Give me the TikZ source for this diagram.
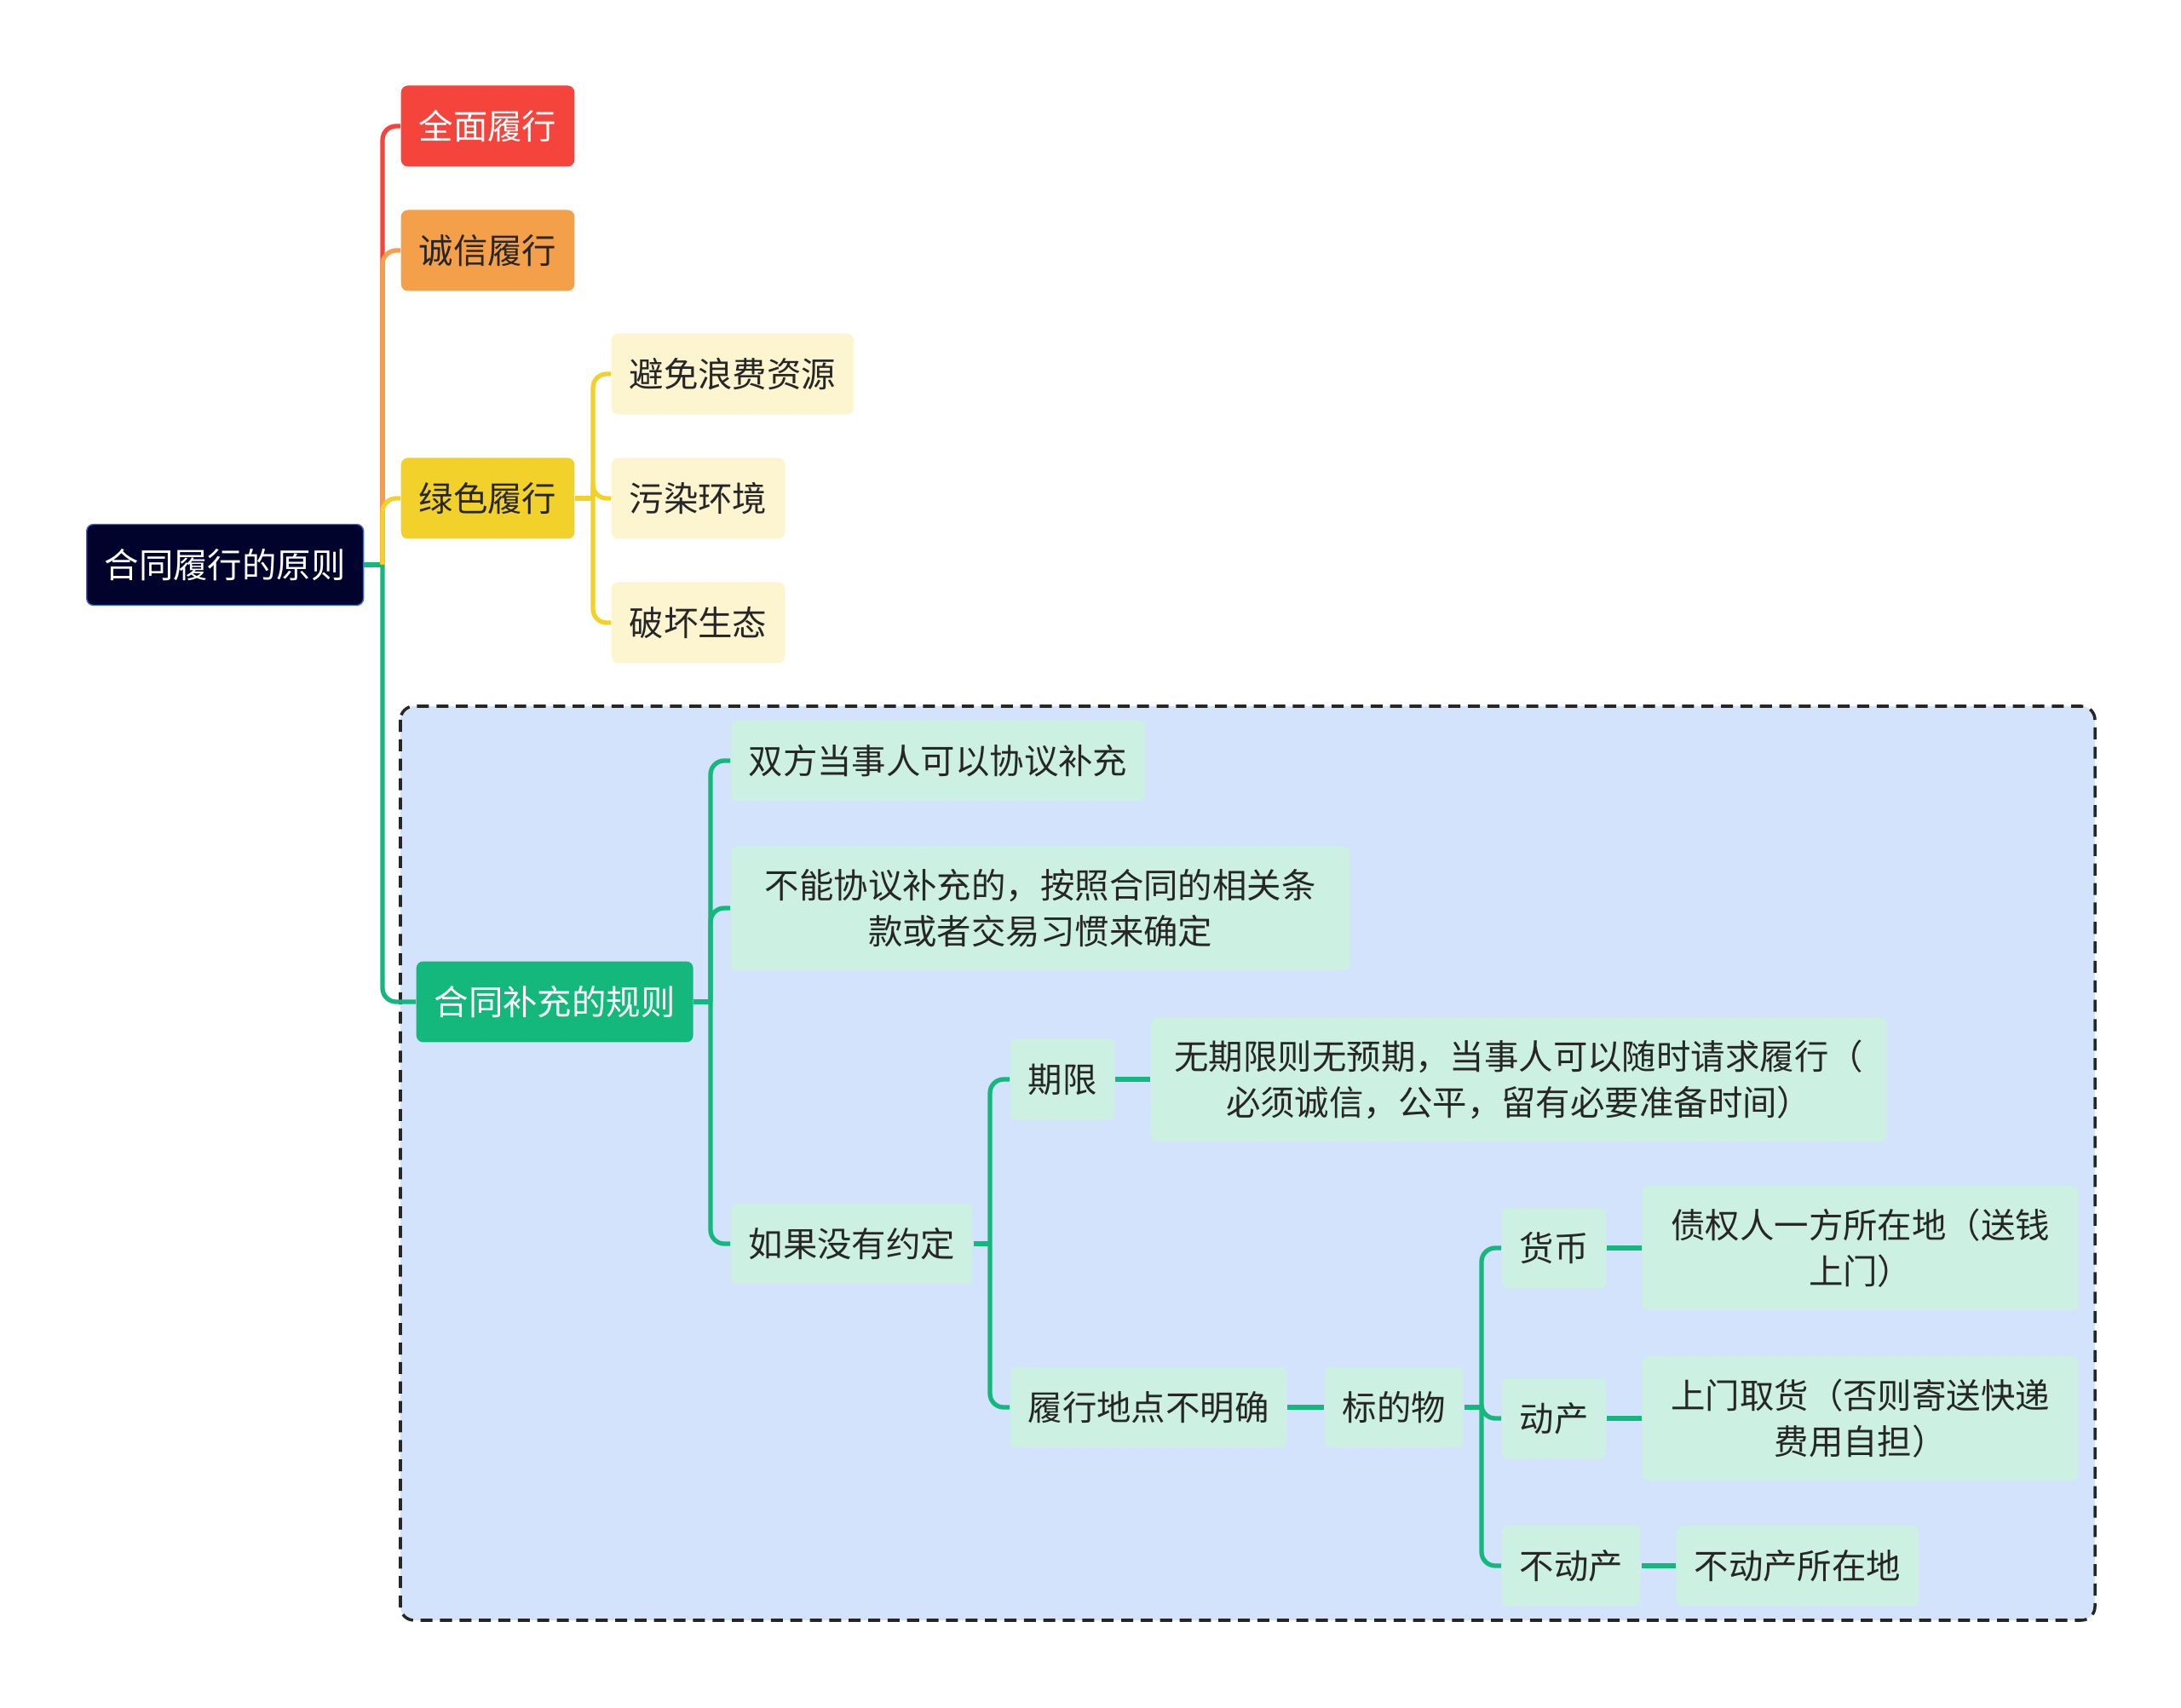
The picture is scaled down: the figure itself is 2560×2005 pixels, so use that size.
\documentclass[tikz,border=0pt]{standalone}
\usepackage{fontspec}
\setmainfont{Noto Sans CJK SC}
\definecolor{navy}{HTML}{02032C}
\definecolor{navyline}{HTML}{3A66D2}
\definecolor{redc}{HTML}{F5443B}
\definecolor{orangec}{HTML}{F4A04A}
\definecolor{yellowc}{HTML}{F2D22A}
\definecolor{paleyellow}{HTML}{FDF4D0}
\definecolor{greenc}{HTML}{14B87C}
\definecolor{mint}{HTML}{CCF0E1}
\definecolor{bluebg}{HTML}{D3E3FB}
\definecolor{txtdark}{HTML}{262626}
\begin{document}
\begin{tikzpicture}[x=0.1mm, y=-0.1mm,
    box/.style={rounded corners=0.8mm, anchor=west, inner xsep=2.1mm, inner ysep=0pt,
      minimum height=9.5mm, text=txtdark, font=\fontsize{11.5}{15.3}\selectfont},
    tall/.style={minimum height=14.6mm, align=center},
    rootbox/.style={box, fill=navy, draw=navyline, line width=0.4pt, text=white},
    mint box/.style={box, fill=mint},
    link/.style={line width=1.5pt, rounded corners=1.6mm},
    redlink/.style={link, draw=redc},
    orangelink/.style={link, draw=orangec},
    yellowlink/.style={link, draw=yellowc},
    greenlink/.style={link, draw=greenc}]
  \useasboundingbox (0,0) rectangle (2560,2005);

  % Dashed frame around the supplement rules
  \draw[fill=bluebg, draw=black!85, line width=1pt, dash pattern=on 4pt off 2.5pt,
    rounded corners=1.6mm] (470,829) rectangle (2459,1902);

  % Nodes
  \node[rootbox] (root) at (101,663) {合同履行的原则};
  \node[box, fill=redc, text=white] (full) at (470,148) {全面履行};
  \node[box, fill=orangec] (honest) at (470,294) {诚信履行};
  \node[box, fill=yellowc] (green) at (470,585) {绿色履行};
  \node[box, fill=paleyellow] (avoid) at (717,439) {避免浪费资源};
  \node[box, fill=paleyellow] (pollute) at (717,585) {污染环境};
  \node[box, fill=paleyellow] (damage) at (717,731) {破坏生态};

  \node[box, fill=greenc, text=white] (rules) at (488,1176) {合同补充的规则};
  \node[mint box] (agree) at (857,893) {双方当事人可以协议补充};
  \node[mint box, tall, minimum width=72.7mm] (noagree) at (857,1066)
    {不能协议补充的，按照合同的相关条\\款或者交易习惯来确定};
  \node[mint box] (none) at (857,1460) {如果没有约定};
  \node[mint box] (term) at (1185,1267) {期限};
  \node[mint box, tall, minimum width=86.4mm] (noterm) at (1350,1267)
    {无期限则无预期，当事人可以随时请求履行（\\必须诚信，公平，留有必要准备时间）};
  \node[mint box] (place) at (1185,1652) {履行地点不明确};
  \node[mint box] (object) at (1554,1652) {标的物};
  \node[mint box] (money) at (1762,1465) {货币};
  \node[mint box, tall, minimum width=51.2mm] (creditor) at (1927,1465)
    {债权人一方所在地（送钱\\上门）};
  \node[mint box] (movable) at (1762,1665) {动产};
  \node[mint box, tall, minimum width=51.2mm] (pickup) at (1927,1665)
    {上门取货（否则寄送快递\\费用自担）};
  \node[mint box] (estate) at (1762,1838) {不动产};
  \node[mint box] (estateloc) at (1967,1838) {不动产所在地};

  % Links from the root
  \coordinate (rt) at (449,663);
  \draw[greenlink] (root.east) -- (rt);
  \draw[redlink] (rt) |- (full.west);
  \draw[orangelink] (rt) |- (honest.west);
  \draw[yellowlink] (rt) |- (green.west);
  \draw[greenlink] (rt) |- (rules.west);

  % Green performance
  \coordinate (gt) at (696,585);
  \draw[yellowlink] (green.east) -- (gt);
  \foreach \c in {avoid,pollute,damage}
    \draw[yellowlink] (gt) |- (\c.west);

  % Supplement rules
  \coordinate (st) at (834,1176);
  \draw[greenlink] (rules.east) -- (st);
  \foreach \c in {agree,noagree,none}
    \draw[greenlink] (st) |- (\c.west);

  \coordinate (nt) at (1162,1460);
  \draw[greenlink] (none.east) -- (nt);
  \foreach \c in {term,place}
    \draw[greenlink] (nt) |- (\c.west);
  \draw[greenlink] (term.east) -- (noterm.west);
  \draw[greenlink] (place.east) -- (object.west);

  \coordinate (ot) at (1739,1652);
  \draw[greenlink] (object.east) -- (ot);
  \foreach \c in {money,movable,estate}
    \draw[greenlink] (ot) |- (\c.west);
  \draw[greenlink] (money.east) -- (creditor.west);
  \draw[greenlink] (movable.east) -- (pickup.west);
  \draw[greenlink] (estate.east) -- (estateloc.west);
\end{tikzpicture}
\end{document}
